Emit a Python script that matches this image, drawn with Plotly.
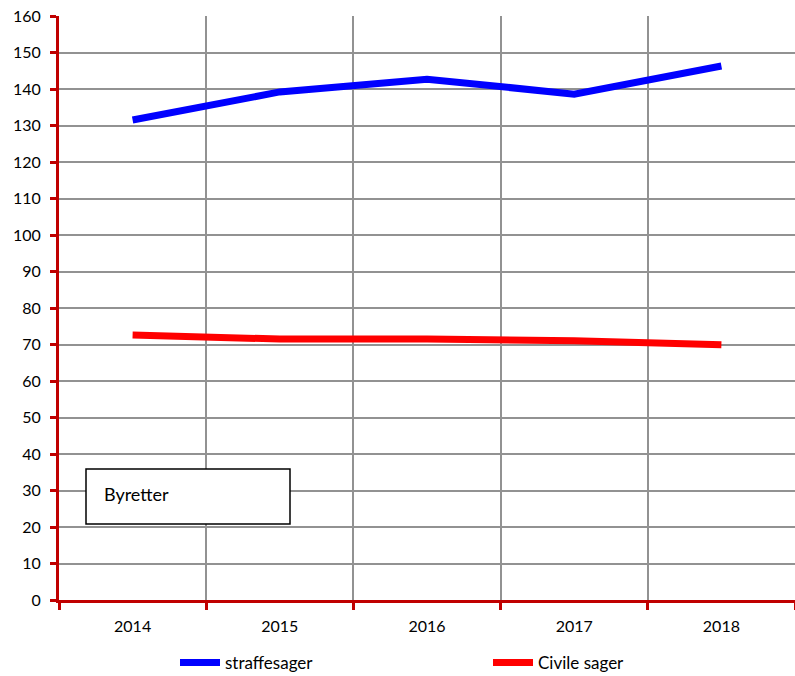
import plotly.graph_objects as go

years = ["2014", "2015", "2016", "2017", "2018"]
straffesager = [131.5, 139.2, 142.7, 138.6, 146.3]
civile_sager = [72.6, 71.5, 71.5, 71.0, 69.9]
y_ticks = list(range(0, 161, 10))

fig = go.Figure()
fig.add_trace(go.Scatter(x=years, y=straffesager, mode="lines", name="straffesager",
                         line=dict(color="#0000ff", width=7)))
fig.add_trace(go.Scatter(x=years, y=civile_sager, mode="lines", name="Civile sager",
                         line=dict(color="#ff0000", width=7)))

axis_red = "#c00000"
grid = "#929292"
font = "Lato, Carlito, Calibri, sans-serif"

W, H = 795, 676
L, T, B = 59, 16, 76
PW, PH = W - L, H - T - B

def px(xp):
    return (xp - L) / PW

def py(yp):
    return (H - B - yp) / PH

fig.update_layout(
    width=W, height=H,
    margin=dict(l=L, r=0, t=T, b=B, autoexpand=False),
    plot_bgcolor="white", paper_bgcolor="white",
    font=dict(family=font, size=16, color="black"),
    xaxis=dict(type="category", tickson="boundaries", range=[-0.5, 4.5],
               showgrid=True, gridcolor=grid, gridwidth=1.5, automargin=False,
               showline=True, linecolor=axis_red, linewidth=3,
               ticks="outside", ticklen=7, tickwidth=3, tickcolor=axis_red,
               ticklabelstandoff=10, tickfont=dict(size=16)),
    yaxis=dict(range=[0, 160], tickvals=y_ticks, automargin=False,
               showgrid=True, gridcolor=grid, gridwidth=1.5,
               showline=True, linecolor=axis_red, linewidth=3,
               ticks="outside", ticklen=6, tickwidth=3, tickcolor=axis_red,
               ticklabelstandoff=6, zeroline=False, tickfont=dict(size=16)),
    legend=dict(orientation="h", xref="container", yref="container",
                x=488/W, xanchor="center", y=(H-663)/H, yanchor="middle",
                entrywidth=258, entrywidthmode="pixels", itemwidth=40,
                font=dict(size=17), traceorder="normal"),
    showlegend=True,
)

fig.add_shape(type="rect", xref="paper", yref="paper",
              x0=px(86), x1=px(290), y0=py(524), y1=py(469),
              line=dict(color="black", width=1.5), fillcolor="white", layer="above")
fig.add_annotation(text="Byretter", xref="paper", yref="paper",
                   x=px(102), xanchor="left", y=py(494), yanchor="middle",
                   showarrow=False, font=dict(size=18, color="black"))

fig.write_html("out.html", config={"displayModeBar": False},
               post_script="document.body.style.margin='0';document.body.style.overflow='hidden';")
